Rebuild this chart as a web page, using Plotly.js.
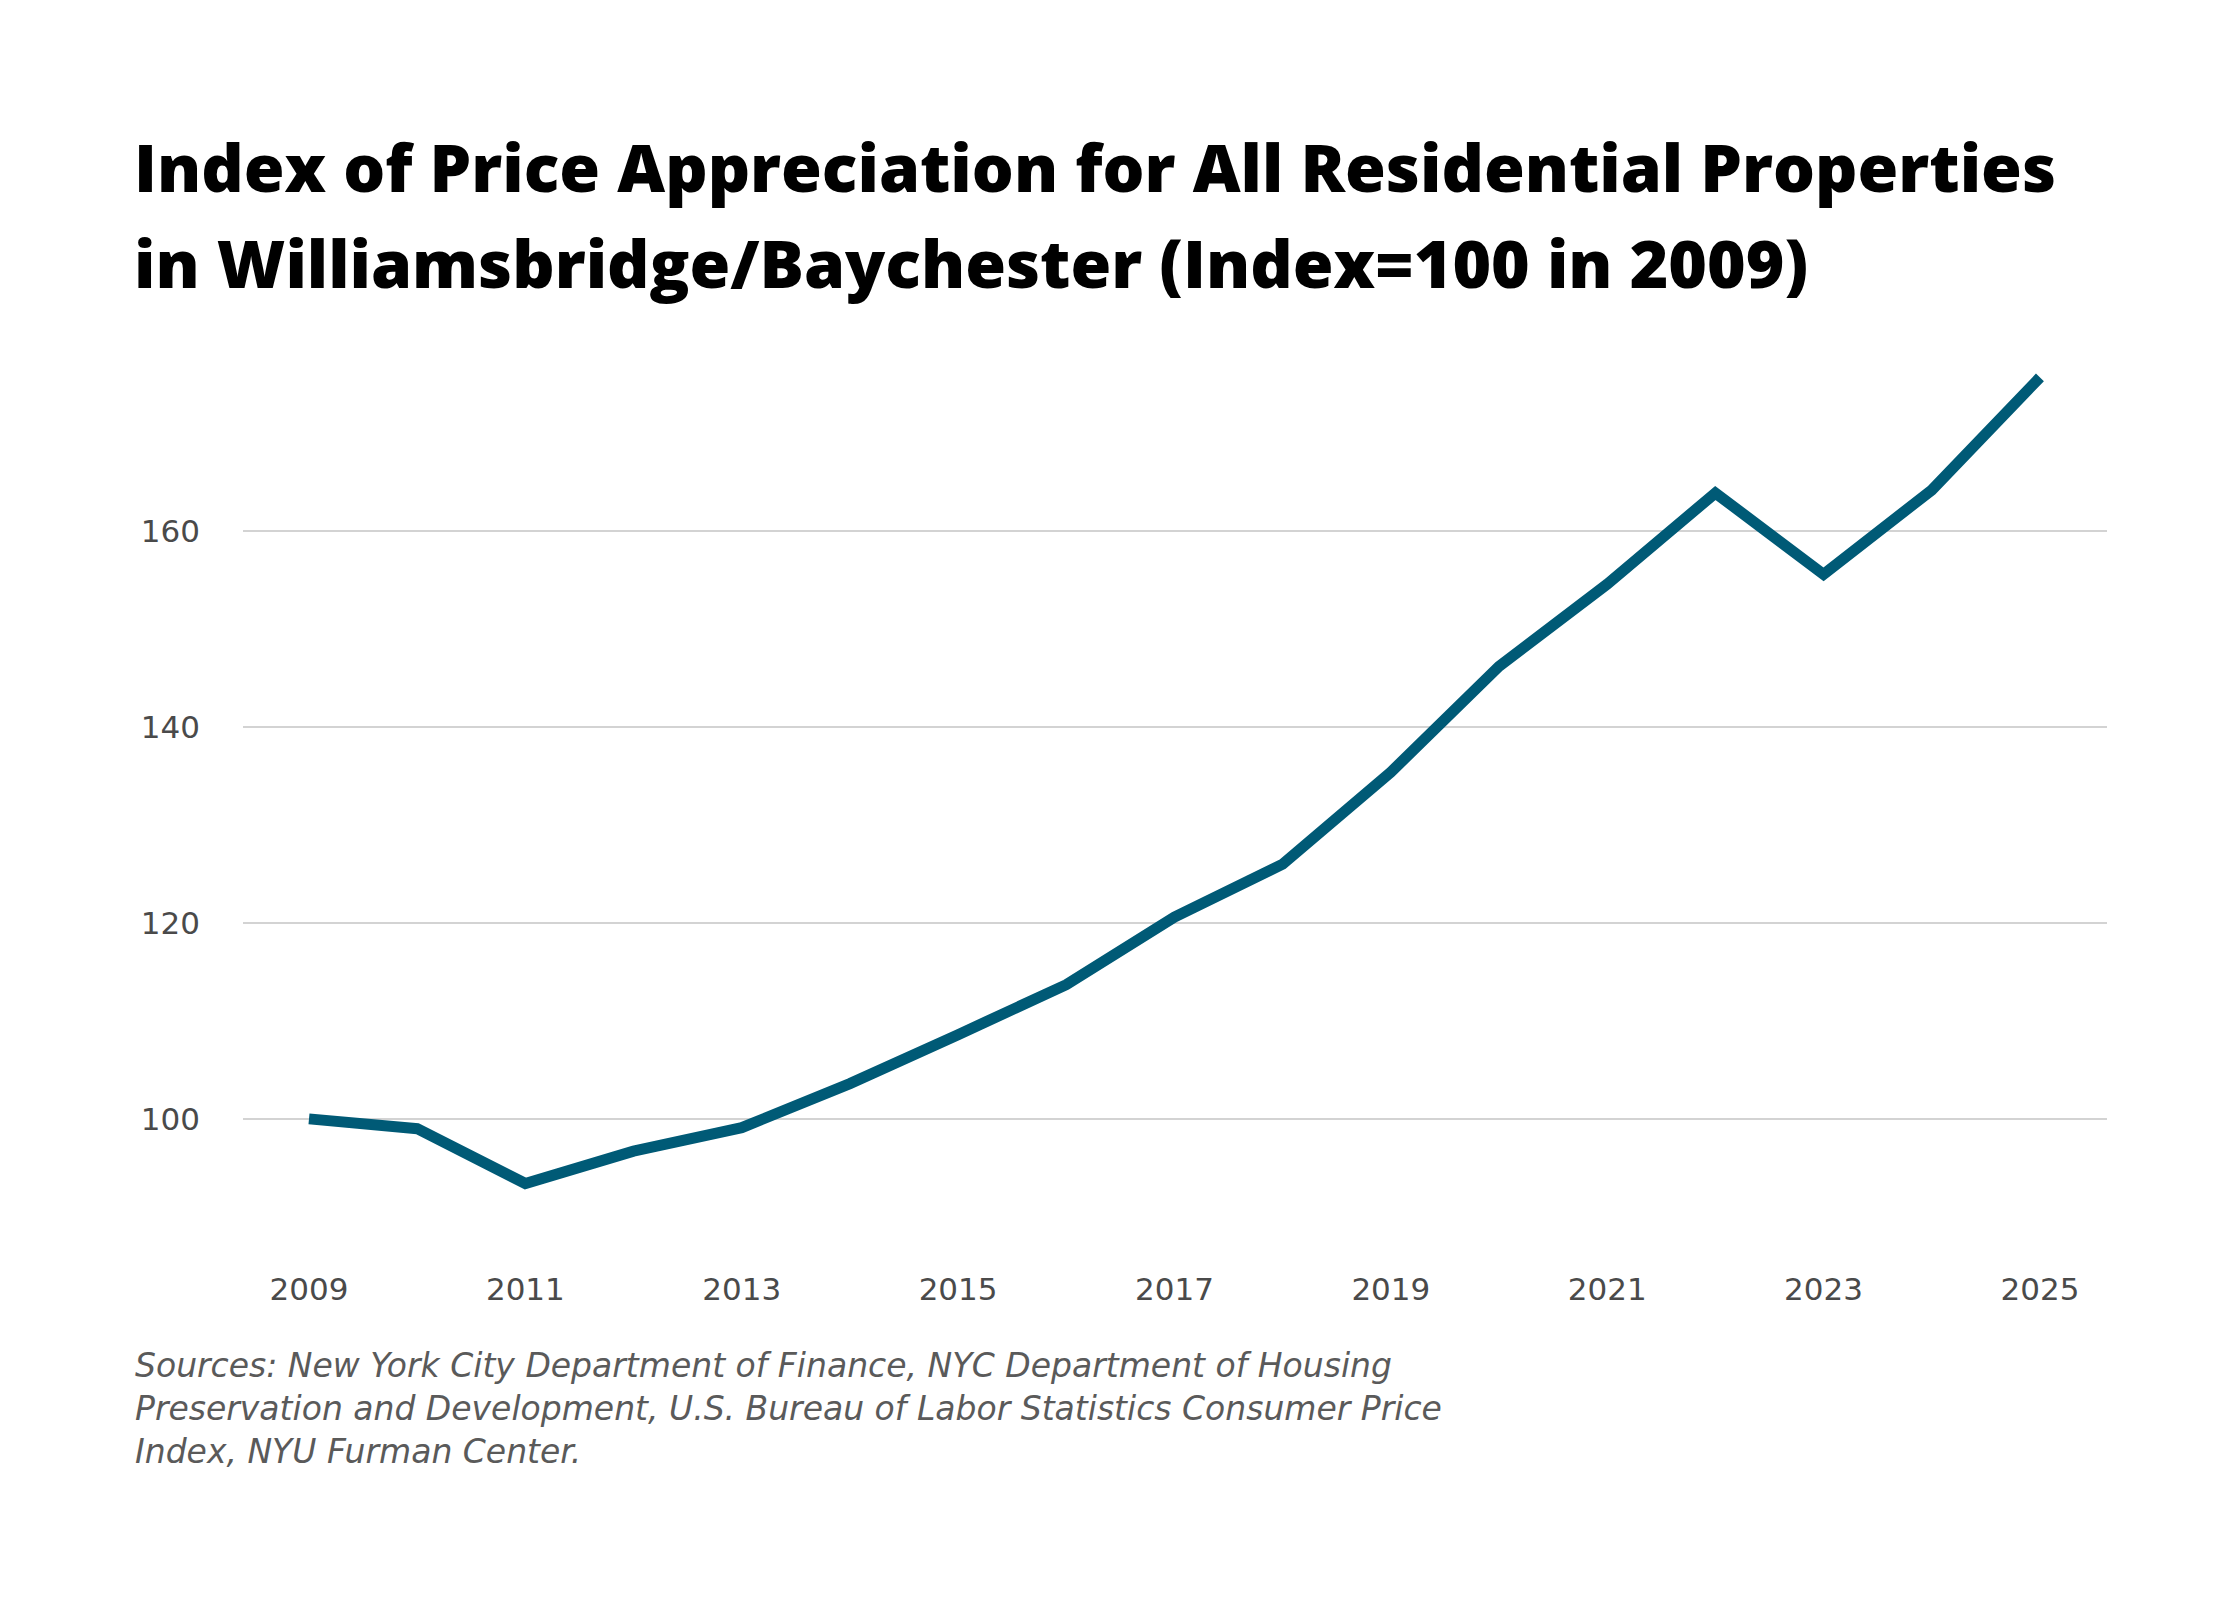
<!DOCTYPE html>
<html>
<head>
<meta charset="utf-8">
<script src="https://cdn.plot.ly/plotly-3.0.1.min.js"></script>
<style>
  html, body { margin: 0; padding: 0; background: #fff; }
  #chart { width: 2240px; height: 1600px; }
</style>
</head>
<body>
<div id="chart"></div>
<script>
// index values, 2009 = 100
var years = [2009, 2010, 2011, 2012, 2013, 2014, 2015, 2016, 2017,
             2018, 2019, 2020, 2021, 2022, 2023, 2024, 2025];
var priceIndex = [100, 99.0, 93.4, 96.7, 99.1, 103.6, 108.6, 113.7, 120.6,
                  126.0, 135.4, 146.2, 154.6, 163.9, 155.6, 164.2, 175.7];
var xTicks = [2009, 2011, 2013, 2015, 2017, 2019, 2021, 2023, 2025];
var yTicks = [100, 120, 140, 160];
var titleLines = [
  "Index of Price Appreciation for All Residential Properties",
  "in Williamsbridge/Baychester (Index=100 in 2009)",
];
var sourceLines = [
  "Sources: New York City Department of Finance, NYC Department of Housing",
  "Preservation and Development, U.S. Bureau of Labor Statistics Consumer Price",
  "Index, NYU Furman Center.",
];

var W = 2240, H = 1600;
var mar = { l: 243, r: 133, t: 350, b: 344 };

// pixel -> paper helpers for the text blocks
function px(x) { return (x - mar.l) / (W - mar.l - mar.r); }
function py(y) { return (H - mar.b - y) / (H - mar.t - mar.b); }

var tickFont = { size: 31, color: "#4a4a4a", family: "'DejaVu Sans', sans-serif" };
var titleFont = { family: "'Open Sans', sans-serif", size: 66, color: "#000000", weight: 800 };
var sourceFont = { family: "'DejaVu Sans', sans-serif", size: 33, color: "#5a5a5a", weight: 300, style: "italic" };

var annotations = [];
titleLines.forEach(function (t, i) {
  annotations.push({
    text: t,
    xref: "paper", yref: "paper",
    x: px(132), y: py(166 + i * 96),
    xanchor: "left", yanchor: "middle",
    showarrow: false,
    font: titleFont,
  });
});
annotations.push({
  text: sourceLines.join("<br>"),
  xref: "paper", yref: "paper",
  x: px(133), y: py(1408),
  xanchor: "left", yanchor: "middle",
  align: "left",
  showarrow: false,
  font: sourceFont,
});

var layout = {
  width: W,
  height: H,
  paper_bgcolor: "#ffffff",
  plot_bgcolor: "#ffffff",
  margin: mar,
  showlegend: false,
  font: { family: "'Open Sans', sans-serif", color: "#4a4a4a" },
  xaxis: {
    range: [2008.39, 2025.62],
    tickvals: xTicks,
    ticktext: xTicks.map(String),
    showgrid: false,
    zeroline: false,
    showline: false,
    ticks: "",
    ticklabelstandoff: 12,
    tickfont: tickFont,
  },
  yaxis: {
    range: [86, 178.5],
    tickvals: yTicks,
    showgrid: true,
    gridcolor: "#d3d3d3",
    gridwidth: 2,
    zeroline: false,
    showline: false,
    ticks: "",
    ticklabelstandoff: 42,
    tickfont: tickFont,
  },
  annotations: annotations,
};

Plotly.newPlot("chart", [
  {
    x: years,
    y: priceIndex,
    type: "scatter",
    mode: "lines",
    line: { color: "#005a76", width: 11 },
    hoverinfo: "x+y",
  },
], layout, { displayModeBar: false, staticPlot: true });
</script>
</body>
</html>
